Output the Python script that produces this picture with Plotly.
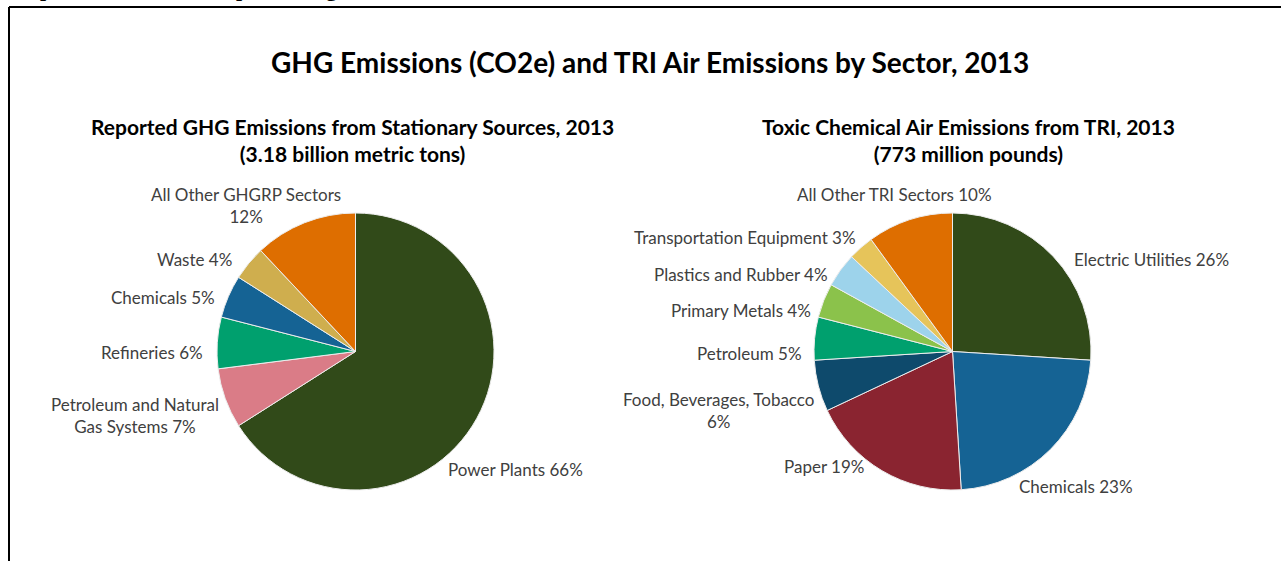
import plotly.graph_objects as go

W, H = 1281, 561

# GHGRP stationary-source emissions by sector, 2013 (% of 3.18 billion metric tons CO2e)
ghg_sectors = ["Power Plants", "Petroleum and Natural Gas Systems", "Refineries",
               "Chemicals", "Waste", "All Other GHGRP Sectors"]
ghg_share = [66, 7, 6, 5, 4, 12]
ghg_colors = ["#314A19", "#DA7C87", "#00A06E", "#156394", "#CFAE4E", "#DE6E00"]

# TRI air emissions by sector, 2013 (% of 773 million pounds)
tri_sectors = ["Electric Utilities", "Chemicals", "Paper", "Food, Beverages, Tobacco",
               "Petroleum", "Primary Metals", "Plastics and Rubber",
               "Transportation Equipment", "All Other TRI Sectors"]
tri_share = [26, 23, 19, 6, 5, 4, 4, 3, 10]
tri_colors = ["#314A19", "#156394", "#8A2430", "#0E4A6C", "#00A06E",
              "#8BC24B", "#9DD3EB", "#E6C45A", "#DE6E00"]

# label wrapping for long names
wrap = {
    "Petroleum and Natural Gas Systems": ("Petroleum and Natural<br>Gas Systems", " "),
    "All Other GHGRP Sectors": ("All Other GHGRP Sectors", "<br>"),
    "Food, Beverages, Tobacco": ("Food, Beverages, Tobacco", "<br>"),
}

# label anchor points (pixel centers)
ghg_label_pos = [(515, 469), (135, 415), (152, 352), (163, 297), (194, 259), (246, 205)]
tri_label_pos = [(1151, 260), (1076, 486), (824, 466), (718, 410), (749, 353),
                 (741, 310), (741, 274), (745, 237), (894, 194)]


def px_x(x):
    return x / W


def px_y(y):
    return 1 - y / H


def label_text(name, val):
    disp, sep = wrap.get(name, (name, " "))
    return f"{disp}{sep}{val}%"


fig = go.Figure()

pie_common = dict(sort=False, direction="clockwise", rotation=0, textinfo="none",
                  hoverinfo="label+percent", showlegend=False)

fig.add_trace(go.Pie(
    labels=ghg_sectors, values=ghg_share,
    marker=dict(colors=ghg_colors, line=dict(color="#EDEDED", width=1)),
    domain=dict(x=[px_x(217), px_x(494)], y=[px_y(490), px_y(213)]),
    **pie_common))

fig.add_trace(go.Pie(
    labels=tri_sectors, values=tri_share,
    marker=dict(colors=tri_colors, line=dict(color="#EDEDED", width=1)),
    domain=dict(x=[px_x(814), px_x(1091)], y=[px_y(490), px_y(213)]),
    **pie_common))

FONT = "Lato, Carlito, Calibri, sans-serif"
annotations = []
label_font = dict(family=FONT, size=17, color="#404040")
for name, val, (x, y) in zip(ghg_sectors, ghg_share, ghg_label_pos):
    annotations.append(dict(x=px_x(x), y=px_y(y), xref="paper", yref="paper",
                            text=label_text(name, val), showarrow=False,
                            xanchor="center", yanchor="middle", font=label_font))
for name, val, (x, y) in zip(tri_sectors, tri_share, tri_label_pos):
    annotations.append(dict(x=px_x(x), y=px_y(y), xref="paper", yref="paper",
                            text=label_text(name, val), showarrow=False,
                            xanchor="center", yanchor="middle", font=label_font))

title_font = dict(family=FONT, size=28, color="#000000")
sub_font = dict(family=FONT, size=21, color="#000000")

annotations += [
    dict(x=px_x(650), y=px_y(62), xref="paper", yref="paper", showarrow=False,
         text="<b>GHG Emissions (CO2e) and TRI Air Emissions by Sector, 2013</b>",
         xanchor="center", yanchor="middle", font=title_font),
    dict(x=px_x(352), y=px_y(140), xref="paper", yref="paper", showarrow=False,
         text="<b>Reported GHG Emissions from Stationary Sources, 2013<br>(3.18 billion metric tons)</b>",
         xanchor="center", yanchor="middle", font=sub_font),
    dict(x=px_x(969), y=px_y(140), xref="paper", yref="paper", showarrow=False,
         text="<b>Toxic Chemical Air Emissions from TRI, 2013<br>(773 million pounds)</b>",
         xanchor="center", yanchor="middle", font=sub_font),
    # page heading above the chart frame
    dict(x=0, y=1, xref="paper", yref="paper", showarrow=False,
         text="<b>Graph 3. Sectors with Top Emitting Facilities</b>",
         xanchor="left", yanchor="bottom", yshift=-3,
         font=dict(family="Liberation Serif, Times New Roman, serif", size=22, color="#000000")),
]

shapes = [
    dict(type="line", xref="paper", yref="paper", x0=px_x(9), x1=1.0, y0=px_y(7), y1=px_y(7),
         line=dict(color="#000000", width=2)),
    dict(type="line", xref="paper", yref="paper", x0=px_x(9), x1=px_x(9), y0=px_y(7), y1=0,
         line=dict(color="#000000", width=2)),
]

fig.update_layout(
    width=W, height=H,
    margin=dict(l=0, r=0, t=0, b=0),
    paper_bgcolor="#FFFFFF", plot_bgcolor="#FFFFFF",
    annotations=annotations, shapes=shapes,
)

fig.write_html("out.html")
